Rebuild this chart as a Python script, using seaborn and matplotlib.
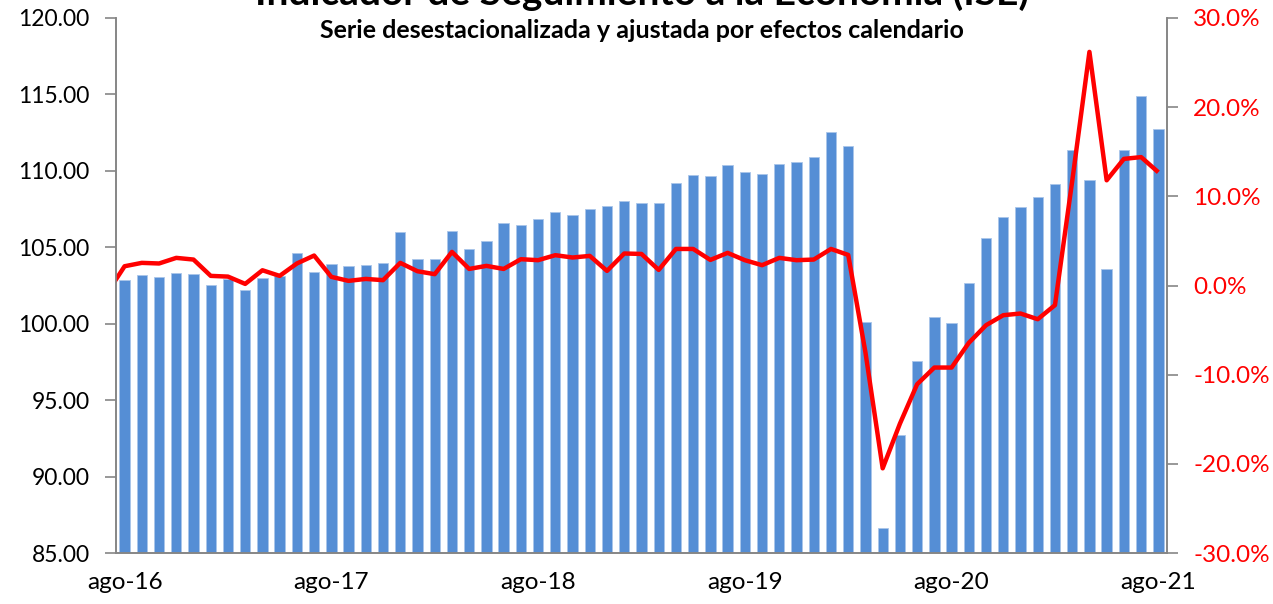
import numpy as np
import pandas as pd
import matplotlib
matplotlib.use("Agg")
import matplotlib.pyplot as plt
import seaborn as sns
from matplotlib.ticker import FixedLocator, FuncFormatter

# --- DATOS ---
# ISE desestacionalizado, ago-16 .. ago-21 (61 meses)
ise = [102.84, 103.20, 103.07, 103.35, 103.28, 102.54, 102.93, 102.19, 103.00, 103.09,
       104.63, 103.41, 103.89, 103.76, 103.85, 103.98, 105.98, 104.26, 104.24, 106.09,
       104.89, 105.41, 106.57, 106.46, 106.85, 107.33, 107.09, 107.52, 107.69, 108.02,
       107.93, 107.93, 109.20, 109.72, 109.65, 110.41, 109.93, 109.80, 110.43, 110.59,
       110.93, 112.52, 111.65, 100.13, 86.66, 92.71, 97.54, 100.41, 100.02, 102.69,
       105.61, 107.00, 107.61, 108.28, 109.17, 111.37, 109.39, 103.60, 111.37, 114.87,
       112.74]

# variacion anual (%), jul-16 .. ago-21 (el primer punto queda fuera del eje)
var_anual = [-0.80,
             2.16, 2.54, 2.47, 3.10, 2.91, 1.08, 1.00, 0.18, 1.71, 1.08,
             2.47, 3.36, 0.97, 0.52, 0.74, 0.60, 2.54, 1.60, 1.27, 3.77,
             1.86, 2.20, 1.86, 2.95, 2.84, 3.40, 3.14, 3.32, 1.64, 3.59,
             3.54, 1.75, 4.10, 4.10, 2.87, 3.66, 2.84, 2.28, 3.10, 2.84,
             2.91, 4.10, 3.43, -7.50, -20.50, -15.50, -11.07, -9.20, -9.20, -6.43,
             -4.45, -3.33, -3.14, -3.78, -2.20, 11.70, 26.20, 11.80, 14.20, 14.40,
             12.70]

etiquetas_x = ["ago-16", "ago-17", "ago-18", "ago-19", "ago-20", "ago-21"]

titulo = "Indicador de Seguimiento a la Economía (ISE)"
subtitulo = "Serie desestacionalizada y ajustada por efectos calendario"

# --- TABLAS ---
df_ise = pd.DataFrame({"pos": np.arange(len(ise)), "ise": ise})
df_var = pd.DataFrame({"pos": np.arange(-1, len(var_anual) - 1), "var": var_anual})

sns.set_style("white")
plt.rcParams["font.family"] = ["Lato", "DejaVu Sans"]

fig, ax = plt.subplots(figsize=(12.73, 6.04), dpi=100)
fig.subplots_adjust(left=0.0911, right=0.9167, top=0.9702, bottom=0.0844)

sns.barplot(data=df_ise, x="pos", y="ise", native_scale=True, width=0.6,
            color="#558ED5", edgecolor="#a9c5ea", linewidth=0.6,
            errorbar=None, saturation=1, ax=ax)

ax2 = ax.twinx()
sns.lineplot(data=df_var, x="pos", y="var", color="#FF0000", linewidth=3.2,
             ax=ax2, solid_joinstyle="round", solid_capstyle="butt")

# --- EJES ---
ax.set_xlim(-0.5, len(ise) - 0.5)
ax2.set_xlim(-0.5, len(ise) - 0.5)
ax.set_ylim(85, 120)
ax2.set_ylim(-30, 30)

ax.set_yticks(np.arange(85, 121, 5))
ax.yaxis.set_major_formatter(FuncFormatter(lambda v, p: f"{v:.2f}"))
ax2.set_yticks(np.arange(-30, 31, 10))
ax2.yaxis.set_major_formatter(FuncFormatter(lambda v, p: f"{v:.1f}%"))

pos_ago = np.arange(0, len(ise), 12)
ax.xaxis.set_major_locator(FixedLocator(pos_ago - 0.5))
ax.xaxis.set_minor_locator(FixedLocator(pos_ago))
ax.set_xticklabels([], minor=False)
ax.set_xticklabels(etiquetas_x, minor=True)
ax.set_xlabel("")
ax.set_ylabel("")
ax2.set_xlabel("")
ax2.set_ylabel("")

gris = "#868686"
for a in (ax, ax2):
    a.spines["top"].set_visible(False)
    for s in ("left", "right", "bottom"):
        a.spines[s].set_color(gris)
        a.spines[s].set_linewidth(1.2)
    a.grid(False)

ax.tick_params(axis="x", which="major", length=8, width=1.2, color=gris, direction="out")
ax.tick_params(axis="x", which="minor", length=0, pad=14, labelsize=17.5, labelcolor="#000000")
ax.tick_params(axis="y", length=8, width=1.2, color=gris, direction="out",
               pad=11, labelsize=16.5, labelcolor="#000000", left=True)
ax2.tick_params(axis="y", length=8, width=1.2, color=gris, direction="out",
                pad=11, labelsize=17.5, labelcolor="#FF0000", right=True)

# --- TITULOS ---
fig.text(0.504, 0.992, titulo, ha="center", va="baseline",
         fontsize=28, fontweight="bold", color="#000000")
fig.text(0.504, 1 - 38 / 604, subtitulo, ha="center", va="baseline",
         fontsize=18, fontweight="bold", color="#000000")

fig.savefig("out.png", dpi=100)
